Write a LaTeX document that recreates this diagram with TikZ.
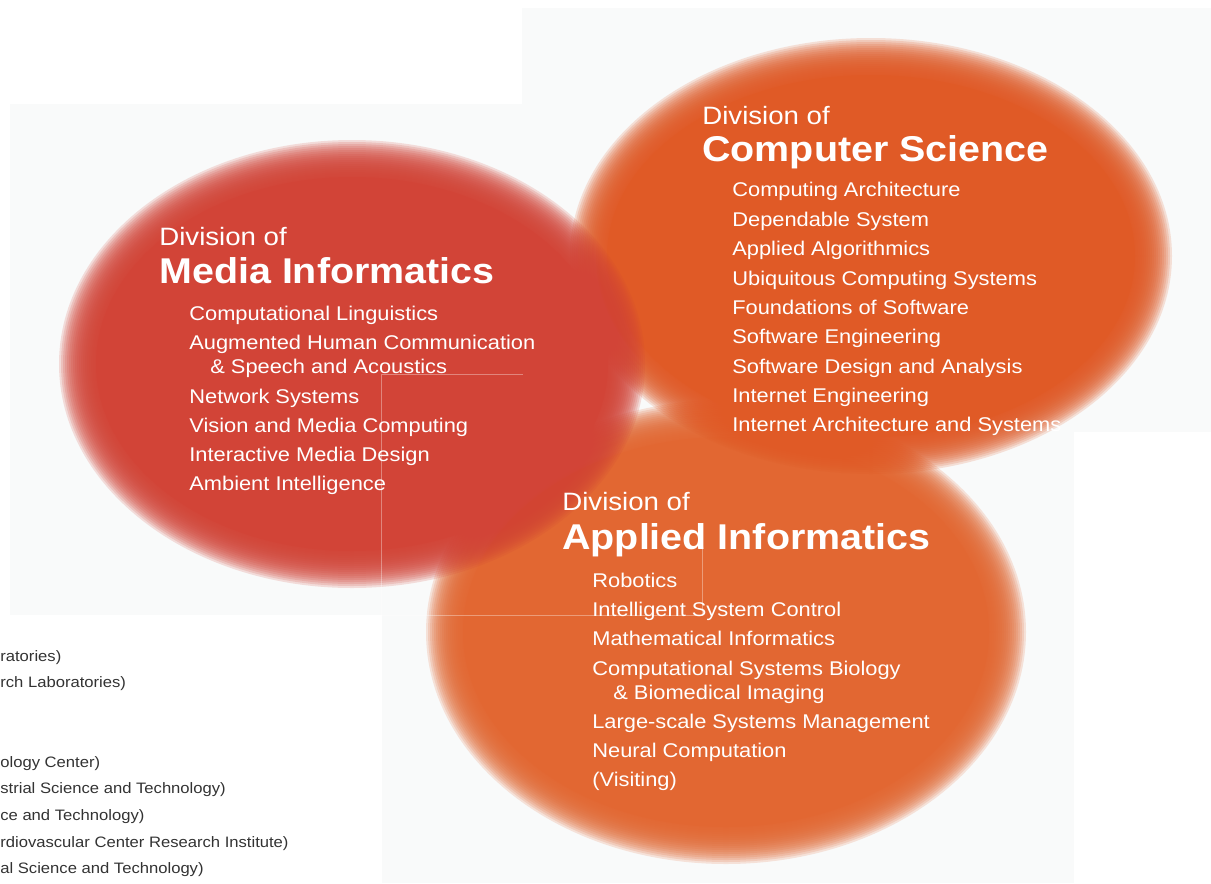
\documentclass[tikz,border=0pt]{standalone}
\usepackage{fontspec}
\setmainfont{Liberation Sans}[FakeStretch=1.1]
\usetikzlibrary{positioning}

\definecolor{mediared}{HTML}{D24437}
\definecolor{csorange}{HTML}{E05A26}
\definecolor{aiorange}{HTML}{E26732}
\definecolor{paper}{HTML}{F9FAFA}
\definecolor{inkgray}{HTML}{333333}

% soft edged oval: centre, x radius, y radius, colour
\newcommand{\softoval}[4]{%
  \foreach \d in {18,16,...,-18}
    \fill[#4, opacity=0.17] (#1) ellipse [x radius=#2+\d, y radius=#3+\d];
  \fill[#4] (#1) ellipse [x radius=#2-19, y radius=#3-19];}

\begin{document}
\begin{tikzpicture}[x=0.02cm, y=-0.02cm,
  divof/.style={anchor=base west, inner sep=0pt, text=white, font=\fontsize{14.3}{16}\selectfont},
  divname/.style={anchor=base west, inner sep=0pt, text=white, font=\fontsize{20.4}{23}\selectfont\bfseries},
  lab/.style={anchor=base west, inner sep=0pt, text=white, font=\fontsize{11.3}{13}\selectfont},
  note/.style={anchor=base west, inner sep=0pt, text=inkgray, font=\fontsize{8.6}{10}\selectfont},
  crop/.style={white, opacity=0.35, line width=0.5pt}]
\useasboundingbox (0,0) rectangle (1211,883);

% pale panels behind
\fill[paper] (10,104) rectangle (522,615);
\fill[paper] (522,8) rectangle (1211,432);
\fill[paper] (382,432) rectangle (1074,883);

% the three divisions
\coordinate (ai) at (726,632);
\coordinate (cs) at (871,256);
\coordinate (mi) at (352,364);
\softoval{ai}{282}{214}{aiorange}
\softoval{cs}{283}{200}{csorange}
\softoval{mi}{275}{206}{mediared}

% trim lines
\coordinate (t1) at (523,374);
\coordinate (t2) at (381,374);
\coordinate (t3) at (381,615);
\coordinate (t4) at (702,615);
\coordinate (t5) at (702,545);
\draw[crop] (t1) -- (t2) -- (t3) -- (t4) -- (t5);

% Media Informatics
\node[divof] (mi_div) at (159,245) {Division of};
\node[divname] (mi_name) at (159,283) {Media Informatics};
\foreach \x/\y/\t [count=\i] in {189/320/Computational Linguistics,
    189/349/Augmented Human Communication, 210/373/\& Speech and Acoustics,
    189/403/Network Systems, 189/432/Vision and Media Computing,
    189/461/Interactive Media Design, 189/490/Ambient Intelligence}
  \node[lab] (mi_\i) at (\x,\y) {\t};

% Computer Science
\node[divof] (cs_div) at (702,124) {Division of};
\node[divname] (cs_name) at (702,161) {Computer Science};
\foreach \y/\t [count=\i] in {196/Computing Architecture, 226/Dependable System,
    255/Applied Algorithmics, 285/Ubiquitous Computing Systems,
    314/Foundations of Software, 343/Software Engineering,
    373/Software Design and Analysis, 402/Internet Engineering,
    431/Internet Architecture and Systems}
  \node[lab] (cs_\i) at (732,\y) {\t};

% Applied Informatics
\node[divof] (ai_div) at (562,510) {Division of};
\node[divname] (ai_name) at (562,549) {Applied Informatics};
\foreach \x/\y/\t [count=\i] in {592/587/Robotics,
    592/616/Intelligent System Control, 592/645/Mathematical Informatics,
    592/675/Computational Systems Biology, 613/699/\& Biomedical Imaging,
    592/728/Large-scale Systems Management, 592/757/Neural Computation,
    592/786/(Visiting)}
  \node[lab] (ai_\i) at (\x,\y) {\t};

% notes running off the left edge
\foreach \y/\t [count=\i] in {661/ratories), 687/rch Laboratories),
    767/ology Center), 793/strial Science and Technology),
    820/ce and Technology), 847/rdiovascular Center Research Institute),
    873/al Science and Technology)}
  \node[note] (nt_\i) at (0,\y) {\t};
\end{tikzpicture}
\end{document}
